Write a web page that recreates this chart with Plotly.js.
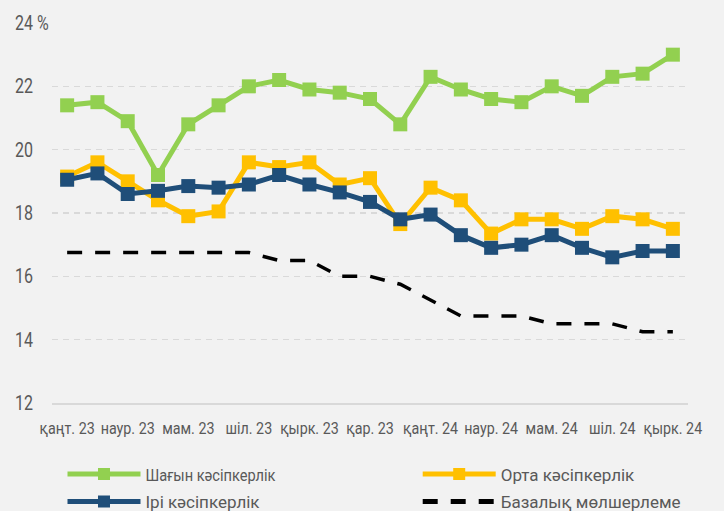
<!DOCTYPE html>
<html>
<head>
<meta charset="utf-8">
<script src="https://cdn.plot.ly/plotly-3.0.1.min.js"></script>
<style>
  html, body { margin: 0; padding: 0; background: #f2f2f2; overflow: hidden; }
  #chart { width: 724px; height: 511px; }
  #chart .ytick text { text-anchor: start !important; }
</style>
</head>
<body>
<div id="chart"></div>
<script>
const months = ['қаңт. 23','ақп. 23','наур. 23','сәуір 23','мам. 23','мау. 23','шіл. 23','там. 23','қырк. 23','қаз. 23','қар. 23','жел. 23',
                'қаңт. 24','ақп. 24','наур. 24','сәуір 24','мам. 24','мау. 24','шіл. 24','там. 24','қырк. 24'];
const xTickLabels = ['қаңт. 23','наур. 23','мам. 23','шіл. 23','қырк. 23','қар. 23','қаңт. 24','наур. 24','мам. 24','шіл. 24','қырк. 24'];
const yTickVals = [12, 14, 16, 18, 20, 22, 24];
const yTickText = ['12', '14', '16', '18', '20', '22', '24 %'];

const small = [21.4, 21.5, 20.9, 19.2, 20.8, 21.4, 22.0, 22.2, 21.9, 21.8, 21.6, 20.8, 22.3, 21.9, 21.6, 21.5, 22.0, 21.7, 22.3, 22.4, 23.0];
const medium = [19.15, 19.6, 19.0, 18.4, 17.9, 18.05, 19.6, 19.45, 19.6, 18.9, 19.1, 17.65, 18.8, 18.4, 17.35, 17.8, 17.8, 17.5, 17.9, 17.8, 17.5];
const large = [19.05, 19.25, 18.6, 18.7, 18.85, 18.8, 18.9, 19.2, 18.9, 18.65, 18.35, 17.8, 17.95, 17.3, 16.9, 17.0, 17.3, 16.9, 16.6, 16.8, 16.8];
const baseRate = [16.75, 16.75, 16.75, 16.75, 16.75, 16.75, 16.75, 16.5, 16.5, 16.0, 16.0, 15.75, 15.25, 14.75, 14.75, 14.75, 14.5, 14.5, 14.5, 14.25, 14.25];

const names = ['Шағын кәсіпкерлік', 'Орта кәсіпкерлік', 'Ірі кәсіпкерлік', 'Базалық мөлшерлеме'];
const FONT = 'Roboto, DejaVu Sans Condensed, sans-serif';

function lineTrace(y, name, color, legendId) {
  return {
    x: months, y: y, name: name, type: 'scatter', mode: 'lines+markers',
    legend: legendId,
    line: { color: color, width: 5 },
    marker: { symbol: 'square', size: 14, color: color },
    hoverinfo: 'skip'
  };
}

const data = [
  lineTrace(small, names[0], '#92D050', 'legend'),
  lineTrace(medium, names[1], '#FFC000', 'legend2'),
  lineTrace(large, names[2], '#1F4E79', 'legend3'),
  {
    x: months, y: baseRate, name: names[3], type: 'scatter', mode: 'lines',
    legend: 'legend4',
    line: { color: '#000000', width: 3.5, dash: '15px,13px' },
    hoverinfo: 'skip'
  }
];

const legendCommon = {
  orientation: 'v',
  xanchor: 'left', yanchor: 'top',
  itemsizing: 'constant',
  itemwidth: 73,
  font: { family: FONT, size: 17, color: '#595959' },
  bgcolor: 'rgba(0,0,0,0)',
  traceorder: 'normal'
};

const layout = {
  width: 724, height: 511,
  paper_bgcolor: '#f2f2f2', plot_bgcolor: '#f2f2f2',
  margin: { l: 52, r: 36, t: 23, b: 108, autoexpand: false },
  font: { family: FONT, color: '#595959', size: 16 },
  showlegend: true,
  legend:  Object.assign({}, legendCommon, { x: 0.0165, y: -0.1405 }),
  legend2: Object.assign({}, legendCommon, { x: 0.575,  y: -0.1405 }),
  legend3: Object.assign({}, legendCommon, { x: 0.0165, y: -0.2128 }),
  legend4: Object.assign({}, legendCommon, { x: 0.575,  y: -0.2128 }),
  xaxis: {
    type: 'category',
    categoryorder: 'array', categoryarray: months,
    range: [-0.5, 20.5],
    tickvals: xTickLabels, ticktext: xTickLabels,
    tickangle: 0,
    ticks: 'outside', ticklen: 9, tickcolor: 'rgba(0,0,0,0)',
    showgrid: false, zeroline: false,
    showline: true, linecolor: '#d9d9d9', linewidth: 1.5,
    tickfont: { family: FONT, size: 17, color: '#595959' },
    fixedrange: true
  },
  yaxis: {
    range: [12, 24],
    tickvals: yTickVals, ticktext: yTickText,
    showgrid: true, gridcolor: '#d9d9d9', gridwidth: 1.5, griddash: '6px,5px',
    zeroline: false, showline: false,
    ticks: '', ticklabelstandoff: 36,
    tickfont: { family: FONT, size: 20, color: '#595959' },
    fixedrange: true
  }
};

const gdEl = document.getElementById('chart');

// emulate the condensed typeface of the original by narrowing text horizontally
function squash(sel, f) {
  gdEl.querySelectorAll(sel).forEach(function (t) {
    var w = parseFloat(t.getAttribute('data-natw'));
    if (!w) {
      t.removeAttribute('textLength');
      w = t.getComputedTextLength();
      if (!(w > 0)) return;
      t.setAttribute('data-natw', w);
    }
    t.setAttribute('textLength', (w * f).toFixed(1));
    t.setAttribute('lengthAdjust', 'spacingAndGlyphs');
  });
}
function squashAll() {
  try {
    squash('.xtick text', 0.84);
    squash('.ytick text', 0.8);
    squash('text.legendtext', 0.86);
  } catch (e) { console.error(e); }
}

Plotly.newPlot(gdEl, data, layout, { displayModeBar: false, staticPlot: true }).then(function () {
  squashAll();
  gdEl.on('plotly_afterplot', squashAll);
  setTimeout(squashAll, 50);
  setTimeout(squashAll, 300);
});
</script>
</body>
</html>
